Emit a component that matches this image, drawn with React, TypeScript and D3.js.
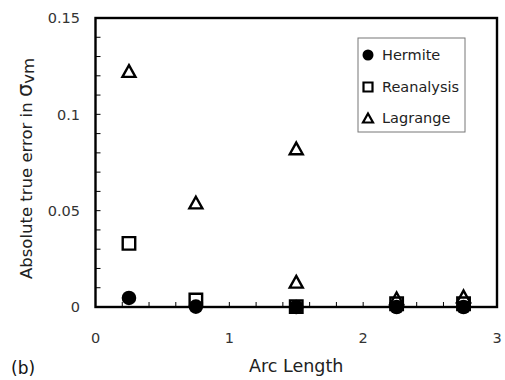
import { useRef, useEffect } from "react";
import * as d3 from "d3";

const arcLength = [0.25, 0.75, 1.5, 2.25, 2.75];
const hermite = [0.0047, 0.0002, 0.0, 0.0, 0.0];
const reanalysis = [0.033, 0.0036, 0.0002, 0.0017, 0.0017];
const lagrange = [0.1225, 0.0542, 0.0823, 0.0045, 0.0055];
const lagrangeExtra: [number, number][] = [[1.5, 0.0131]];

const xTicks = [0, 1, 2, 3];
const yTicks = [0, 0.05, 0.1, 0.15];
const legendNames = ["Hermite", "Reanalysis", "Lagrange"];

const W = 505;
const H = 380;
const FONT = "DejaVu Sans, sans-serif";

export default function App() {
  const svgRef = useRef<SVGSVGElement>(null);

  useEffect(() => {
    if (!svgRef.current) return;
    const svg = d3.select(svgRef.current);
    svg.selectAll("*").remove();

    const margin = { top: 18, right: 8, bottom: 73, left: 95.5 };
    const innerW = W - margin.left - margin.right;
    const innerH = H - margin.top - margin.bottom;

    const x = d3.scaleLinear().domain([0, 3]).range([0, innerW]);
    const y = d3.scaleLinear().domain([0, 0.15]).range([innerH, 0]);

    const g = svg
      .append("g")
      .attr("transform", `translate(${margin.left},${margin.top})`);

    // minor ticks, pointing inward
    g.append("g")
      .selectAll("line")
      .data(d3.range(0.2, 3, 0.2))
      .join("line")
      .attr("x1", (d) => x(d))
      .attr("x2", (d) => x(d))
      .attr("y1", innerH)
      .attr("y2", innerH - 5)
      .attr("stroke", "#000")
      .attr("stroke-width", 1);

    g.append("g")
      .selectAll("line")
      .data(d3.range(1, 15).map((i) => i * 0.01))
      .join("line")
      .attr("x1", 0)
      .attr("x2", 5)
      .attr("y1", (d) => y(d))
      .attr("y2", (d) => y(d))
      .attr("stroke", "#000")
      .attr("stroke-width", 1);

    // tick labels
    g.append("g")
      .selectAll("text")
      .data(xTicks)
      .join("text")
      .attr("x", (d) => x(d))
      .attr("y", innerH + 36)
      .attr("text-anchor", "middle")
      .attr("font-family", FONT)
      .attr("font-size", 14.5)
      .attr("fill", "#333")
      .text((d) => String(d));

    g.append("g")
      .selectAll("text")
      .data(yTicks)
      .join("text")
      .attr("x", -15.5)
      .attr("y", (d) => y(d))
      .attr("dy", "0.36em")
      .attr("text-anchor", "end")
      .attr("font-family", FONT)
      .attr("font-size", 14.5)
      .attr("fill", "#333")
      .text((d) => String(d));

    // frame
    g.append("rect")
      .attr("width", innerW)
      .attr("height", innerH)
      .attr("fill", "none")
      .attr("stroke", "#000")
      .attr("stroke-width", 2.4);

    // axis titles
    svg
      .append("text")
      .attr("x", margin.left + innerW / 2)
      .attr("y", 372)
      .attr("text-anchor", "middle")
      .attr("font-family", FONT)
      .attr("font-size", 17.5)
      .attr("fill", "#222")
      .text("Arc Length");

    const yt = svg
      .append("text")
      .attr("transform", `translate(32,${margin.top + innerH / 2 + 6}) rotate(-90)`)
      .attr("text-anchor", "middle")
      .attr("font-family", FONT)
      .attr("font-size", 16.5)
      .attr("fill", "#222");
    yt.append("tspan").text("Absolute true error in ");
    yt.append("tspan").attr("font-size", 21).text("σ");
    yt.append("tspan").attr("dy", 2).text("vm");

    svg
      .append("text")
      .attr("x", 11)
      .attr("y", 374)
      .attr("font-family", FONT)
      .attr("font-size", 17)
      .attr("fill", "#111")
      .text("(b)");

    const circle = d3.symbol().type(d3.symbolCircle).size(Math.PI * 7.3 * 7.3);
    const square = d3.symbol().type(d3.symbolSquare).size(12.5 * 12.5);
    const tri = (s: number) => {
      const h = s * 0.9;
      return `M0,${-h / 2}L${s / 2},${h / 2}L${-s / 2},${h / 2}Z`;
    };

    // Hermite
    g.append("g")
      .selectAll("path")
      .data(arcLength.map((a, i) => [a, hermite[i]] as [number, number]))
      .join("path")
      .attr("transform", (d) => `translate(${x(d[0])},${y(d[1])})`)
      .attr("d", circle)
      .attr("fill", "#000");

    // Reanalysis
    g.append("g")
      .selectAll("path")
      .data(arcLength.map((a, i) => [a, reanalysis[i]] as [number, number]))
      .join("path")
      .attr("transform", (d) => `translate(${x(d[0])},${y(d[1])})`)
      .attr("d", square)
      .attr("fill", "none")
      .attr("stroke", "#000")
      .attr("stroke-width", 2.4);

    // Lagrange
    g.append("g")
      .selectAll("path")
      .data(
        arcLength
          .map((a, i) => [a, lagrange[i]] as [number, number])
          .concat(lagrangeExtra),
      )
      .join("path")
      .attr("transform", (d) => `translate(${x(d[0])},${y(d[1])})`)
      .attr("d", tri(13))
      .attr("fill", "none")
      .attr("stroke", "#000")
      .attr("stroke-width", 2.4)
      .attr("stroke-linejoin", "miter");

    // legend
    const lg = svg.append("g").attr("transform", "translate(358,38)");
    lg.append("rect")
      .attr("width", 107)
      .attr("height", 94)
      .attr("fill", "#fff")
      .attr("stroke", "#777")
      .attr("stroke-width", 1);
    const ly = [17, 49, 80];
    const lsym = [
      d3.symbol().type(d3.symbolCircle).size(Math.PI * 5.5 * 5.5)(),
      d3.symbol().type(d3.symbolSquare).size(9 * 9)(),
      tri(10),
    ];
    legendNames.forEach((name, i) => {
      const p = lg
        .append("path")
        .attr("transform", `translate(10,${ly[i]})`)
        .attr("d", lsym[i] as string);
      if (i === 0) p.attr("fill", "#000");
      else p.attr("fill", "none").attr("stroke", "#000").attr("stroke-width", 2.2);
      lg.append("text")
        .attr("x", 24)
        .attr("y", ly[i])
        .attr("dy", "0.36em")
        .attr("font-family", FONT)
        .attr("font-size", 14.5)
        .attr("fill", "#222")
        .text(name);
    });
  }, []);

  return (
    <div style={{ position: "absolute", left: 0, top: 0, width: W, height: H, background: "#fff" }}>
      <svg ref={svgRef} width={W} height={H} />
    </div>
  );
}
